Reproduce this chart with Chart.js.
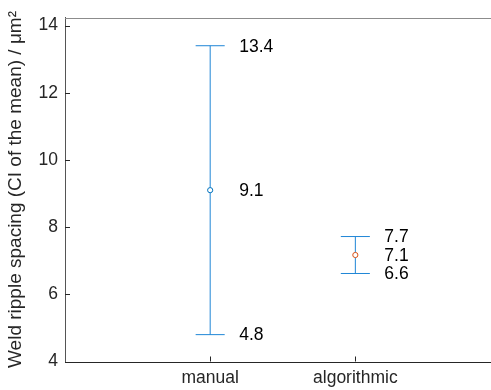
<!DOCTYPE html>
<html>
<head>
<meta charset="utf-8">
<script src="https://cdn.jsdelivr.net/npm/chart.js@4.4.0/dist/chart.umd.min.js"></script>
<style>body{margin:0;background:#fff}</style>
</head>
<body>
<canvas id="c" width="491" height="390"></canvas>
<script>
var categories = ["manual", "algorithmic"];
var xPos = [1, 2];
var means = [9.1, 7.17];
var lower = [4.8, 6.62];
var upper = [13.4, 7.72];
var meanLabels = ["9.1", "7.1"];
var lowerLabels = ["4.8", "6.6"];
var upperLabels = ["13.4", "7.7"];
var yTicks = [4, 6, 8, 10, 12, 14];
var meanColors = ["#0072BD", "#D95319"];

var barColor = "#1f86d6";
var capHalf = 0.1;
var fontFam = "'Liberation Sans', Arial, Helvetica, sans-serif";

// build error bar datasets from the arrays
var datasets = [];
for (var i = 0; i < categories.length; i++) {
  datasets.push({
    data: [{x: xPos[i], y: means[i]}],
    pointRadius: 2.6,
    pointBorderWidth: 1,
    pointBackgroundColor: "#fff",
    pointBorderColor: meanColors[i],
    order: 0
  });
  datasets.push({
    data: [{x: xPos[i], y: lower[i]}, {x: xPos[i], y: upper[i]}],
    showLine: true, borderColor: barColor, borderWidth: 1, pointRadius: 0, order: 1
  });
  datasets.push({
    data: [{x: xPos[i] - capHalf, y: upper[i]}, {x: xPos[i] + capHalf, y: upper[i]}],
    showLine: true, borderColor: barColor, borderWidth: 1, pointRadius: 0, order: 1
  });
  datasets.push({
    data: [{x: xPos[i] - capHalf, y: lower[i]}, {x: xPos[i] + capHalf, y: lower[i]}],
    showLine: true, borderColor: barColor, borderWidth: 1, pointRadius: 0, order: 1
  });
}

var extras = {
  id: "extras",
  afterDatasetsDraw: function (chart) {
    var ctx = chart.ctx, xs = chart.scales.x, ys = chart.scales.y, a = chart.chartArea;
    ctx.save();
    ctx.lineWidth = 1;
    // box top line
    ctx.strokeStyle = "#8c8c8c";
    ctx.beginPath();
    ctx.moveTo(a.left, Math.round(a.top) + 0.5);
    ctx.lineTo(chart.width, Math.round(a.top) + 0.5);
    ctx.stroke();
    // bottom axis line
    ctx.strokeStyle = "#262626";
    ctx.beginPath();
    ctx.moveTo(a.left, Math.round(a.bottom) + 0.5);
    ctx.lineTo(chart.width, Math.round(a.bottom) + 0.5);
    ctx.stroke();
    // inward ticks
    ctx.beginPath();
    yTicks.forEach(function (v) {
      var y = Math.round(ys.getPixelForValue(v)) + 0.5;
      ctx.moveTo(a.left, y);
      ctx.lineTo(a.left + 5, y);
    });
    xPos.forEach(function (v) {
      var x = Math.round(xs.getPixelForValue(v)) + 0.5;
      ctx.moveTo(x, a.bottom);
      ctx.lineTo(x, a.bottom - 5);
    });
    ctx.stroke();
    // value labels
    ctx.fillStyle = "#000";
    ctx.font = "17.5px " + fontFam;
    ctx.textAlign = "left";
    ctx.textBaseline = "middle";
    for (var i = 0; i < categories.length; i++) {
      var x = xs.getPixelForValue(xPos[i]) + 29;
      ctx.fillText(upperLabels[i], x, ys.getPixelForValue(upper[i]) + 1);
      ctx.fillText(meanLabels[i], x, ys.getPixelForValue(means[i]) + 1);
      ctx.fillText(lowerLabels[i], x, ys.getPixelForValue(lower[i]) + 1);
    }
    ctx.restore();
  }
};

new Chart(document.getElementById("c"), {
  type: "scatter",
  data: {datasets: datasets},
  options: {
    responsive: false,
    animation: false,
    layout: {padding: {top: 16, right: 0, left: 0, bottom: 0}},
    plugins: {legend: {display: false}, tooltip: {enabled: false}},
    scales: {
      x: {
        type: "linear",
        min: 0,
        max: 2.9,
        afterBuildTicks: function (s) {
          s.ticks = xPos.map(function (v) { return {value: v}; });
        },
        afterFit: function (s) {
          s.height = 28.5;
        },
        grid: {display: false, drawTicks: false},
        border: {display: false},
        ticks: {
          padding: 6,
          color: "#262626",
          font: {family: fontFam, size: 17.5},
          callback: function (v) { return categories[xPos.indexOf(v)]; }
        }
      },
      y: {
        type: "linear",
        min: 4,
        max: 14.24,
        afterBuildTicks: function (s) {
          s.ticks = yTicks.map(function (v) { return {value: v}; });
        },
        afterFit: function (s) { s.width = 65; },
        grid: {display: false, drawTicks: false},
        border: {display: true, color: "#555", width: 1},
        ticks: {
          padding: 7,
          color: "#262626",
          font: {family: fontFam, size: 17.5}
        },
        title: {
          display: true,
          text: "Weld ripple spacing (CI of the mean) / μm²",
          color: "#262626",
          font: {family: fontFam, size: 19},
          padding: {top: 4, bottom: 0}
        }
      }
    }
  },
  plugins: [extras]
});
</script>
</body>
</html>
